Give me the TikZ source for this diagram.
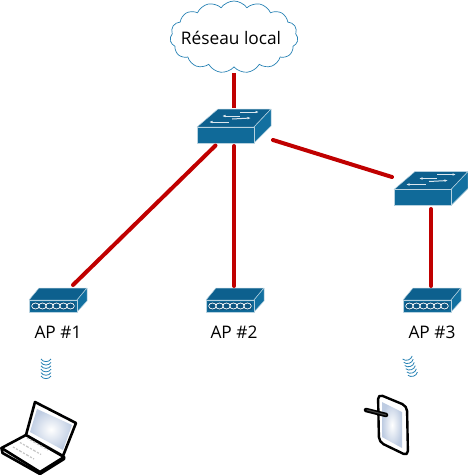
\documentclass[tikz,border=0pt]{standalone}
\usepackage{fontspec}
\setmainfont{Open Sans}
\definecolor{linkred}{RGB}{192, 0, 0}
\definecolor{boxfront}{RGB}{16, 106, 153}
\definecolor{boxtop}{RGB}{13, 96, 142}
\definecolor{boxside}{RGB}{18, 112, 160}
\definecolor{boxdark}{RGB}{12, 84, 128}
\definecolor{wifiblue}{RGB}{40, 130, 180}
\definecolor{screenblue}{RGB}{190, 204, 226}
\usetikzlibrary{shapes.symbols, arrows.meta, calc}

\tikzset{
  linkline/.style={linkred, line width=4pt, line cap=round},
  boxedge/.style={draw=white!70!boxfront, line width=0.5pt, line join=round},
  aplabel/.style={font=\fontsize{17.3}{20}\selectfont},
  swarrow/.style={white!85!boxtop, line width=1pt},
  pics/switchbox/.style={code={
    \path[boxedge, fill=boxtop] (0,0) -- (21,-18) -- (74,-18) -- (57,0) -- cycle;
    \path[boxedge, fill=boxside] (57,0) -- (74,-18) -- (74,-1) -- (57,16) -- cycle;
    \path[boxedge, fill=boxfront] (0,0) rectangle (57,16);
    \draw[swarrow, -{Latex[length=3.5pt]}] (43,-15) -- (62,-15);
    \draw[swarrow, {Latex[length=3.5pt]}-] (25,-11) -- (43,-11);
    \draw[swarrow, -{Latex[length=3.5pt]}] (35,-8) -- (54,-9);
    \draw[swarrow, {Latex[length=3.5pt]}-] (12,-5) -- (32,-5);
  }},
  pics/apbox/.style={code={
    \path[boxedge, fill=boxtop] (0,0) -- (10,-12) -- (58,-12) -- (48,0) -- cycle;
    \path[boxedge, fill=boxside] (48,0) -- (58,-12) -- (58,1) -- (48,12) -- cycle;
    \path[boxedge, fill=boxfront] (0,0) rectangle (48,12);
    \fill[boxdark, rounded corners=1pt] (2,2) rectangle (46,10);
    \foreach \i in {0,...,5} {
      \draw[white, line width=0.7pt] ({6.5+7*\i},6) ellipse (3.8 and 3);
    }
  }},
  pics/wifiwave/.style={code={
    \foreach \i in {0,...,5} {
      \draw[wifiblue, line width=0.8pt] (-5,{-10+3.4*\i}) .. controls (-3,{-6.5+3.4*\i}) and (3,{-6.5+3.4*\i}) .. (5,{-10+3.4*\i});
    }
  }}
}

\begin{document}
\begin{tikzpicture}[x=1pt, y=-1pt]
  \useasboundingbox (0,0) rectangle (468,475);

  % Cloud
  \node[cloud, cloud puffs=15, cloud puff arc=110, aspect=2.4, draw=wifiblue, line width=0.7pt,
    minimum width=128pt, minimum height=72pt, inner sep=0pt] (cloud) at (234, 37) {};
  \node[font=\fontsize{17.3}{20}\selectfont] (cloudlabel) at (231, 38) {Réseau local};

  % Switches
  \pic (sw1) at (197, 127) {switchbox};
  \pic (sw2) at (394, 189.5) {switchbox};

  % Access points
  \foreach \name/\x in {ap1/29, ap2/206, ap3/403} {
    \pic (\name) at (\x, 300) {apbox};
  }
  \node[aplabel] (ap1label) at (58, 332) {AP \#1};
  \node[aplabel] (ap2label) at (234, 332) {AP \#2};
  \node[aplabel] (ap3label) at (432, 332) {AP \#3};

  % Links
  \coordinate (cloudn) at (234, 73);
  \coordinate (sw1n) at (234, 108);
  \coordinate (sw1sw) at (215.5, 145.5);
  \coordinate (sw1s) at (234, 146);
  \coordinate (sw1e) at (273, 140);
  \coordinate (sw2w) at (392, 177);
  \coordinate (sw2s) at (431, 209);
  \coordinate (ap1n) at (73, 285);
  \coordinate (ap2n) at (234, 286);
  \coordinate (ap3n) at (431, 286);
  \draw[linkline, line cap=butt] (cloudn) -- (sw1n);
  \draw[linkline] (sw1sw) -- (ap1n);
  \draw[linkline] (sw1s) -- (ap2n);
  \draw[linkline] (sw1e) -- (sw2w);
  \draw[linkline] (sw2s) -- (ap3n);

  % Radio waves
  \pic at (46, 369) {wifiwave};
  \pic[rotate=18] at (410.5, 367) {wifiwave};

  % Laptop
  \draw[black, line width=2.6pt, line join=round, fill=white]
    (1.5, 448) -- (26, 435) -- (64, 457) -- (40, 472) -- cycle;
  \draw[black, line width=2.6pt, line join=round, line cap=round] (1.5, 448) -- (2.5, 453) -- (40, 474) -- (64, 459) -- (64, 457);
  \draw[black, line width=2.6pt, line join=round, fill=white]
    (35, 402) -- (76, 423) -- (63, 456) -- (26, 435) -- cycle;
  \shade[inner color=white, outer color=screenblue] (37, 409) -- (72, 425) -- (63, 450) -- (30, 432) -- cycle;
  \foreach \a/\b in {0/0, 1/0, 2/0, 0/1, 1/1, 2/1, 0/2, 1/2, 2/2} {
    \draw[gray!45, line width=1.2pt, dash pattern=on 2pt off 1.5pt]
      ({13+7*\a+7*\b}, {447-4.5*\a+4*\b}) -- ({20+7*\a+7*\b}, {451-4.5*\a+4*\b});
  }

  % Tablet
  \draw[black, line width=2.4pt, line join=round, rounded corners=5pt, fill=white]
    (378, 394) -- (407, 406) -- (408, 456) -- (379, 442) -- cycle;
  \shade[inner color=white, outer color=screenblue] (382, 402) -- (402, 412) -- (402, 448) -- (382, 437) -- cycle;
  \draw[black, line width=4.5pt, line cap=round] (366, 410) -- (386, 415);
  \draw[gray!50!black, line width=1.2pt, line cap=round] (367, 410) -- (386, 415);
\end{tikzpicture}
\end{document}
